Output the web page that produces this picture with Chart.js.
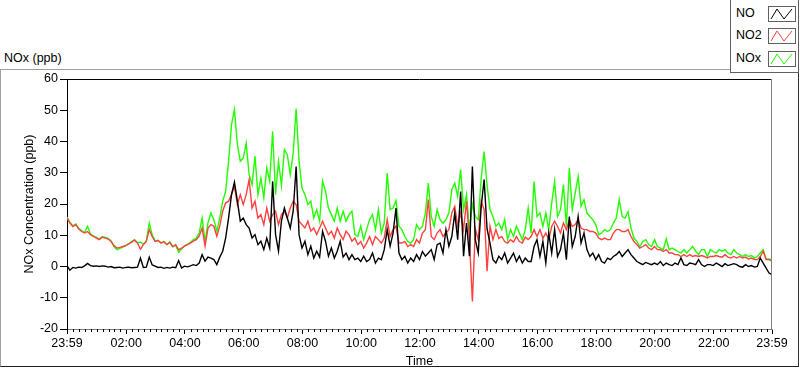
<!DOCTYPE html>
<html><head><meta charset="utf-8">
<script src="https://cdn.jsdelivr.net/npm/chart.js@4/dist/chart.umd.min.js"></script>
<style>
html,body{margin:0;padding:0;background:#fff;}
#wrap{position:relative;width:800px;height:369px;overflow:hidden;font-family:'Liberation Sans Narrow','Liberation Sans',Arial,sans-serif;color:#000;}
#frame{position:absolute;left:0;top:69px;width:797px;height:296px;border-top:1px solid #a0a0a0;border-left:1px solid #a0a0a0;border-right:1px solid #303030;border-bottom:1px solid #202020;}
#title{position:absolute;left:4px;top:51px;font-size:12.5px;}
#legend{position:absolute;left:730px;top:-1px;width:67px;height:72px;border:1px solid #606060;background:#fff;z-index:3;}
.li{position:absolute;left:5px;font-size:12.5px;}
.ic{position:absolute;left:37px;width:26px;height:14px;border:1px solid #606060;background:#fff;}
canvas{position:absolute;left:0;top:0;z-index:2;}
</style></head><body>
<div id="wrap">
  <div id="frame"></div>
  <div id="title">NOx (ppb)</div>
  <div id="legend">
    <div class="li" style="top:6px">NO</div>
    <div class="ic" style="top:6px"><svg width="26" height="14"><polyline points="2,12 8,2 15,12 23,2" fill="none" stroke="#000" stroke-width="1"/></svg></div>
    <div class="li" style="top:28px">NO2</div>
    <div class="ic" style="top:28px"><svg width="26" height="14"><polyline points="2,12 8,2 15,12 23,2" fill="none" stroke="#ff4040" stroke-width="1"/></svg></div>
    <div class="li" style="top:51px">NOx</div>
    <div class="ic" style="top:51px"><svg width="26" height="14"><polyline points="2,12 8,2 15,12 23,2" fill="none" stroke="#22ff00" stroke-width="1"/></svg></div>
  </div>
  <canvas id="c" width="800" height="369"></canvas>
</div>
<script>
// ---- data (6-minute samples starting at 23:59) ----
const SAMPLE_STEP_MIN = 6;
const NO = [
 0.3,-1.2,-0.3,-0.5,-0.2,-0.3,0.2,1.0,0.3,0.1,
 0.2,0.0,0.2,0.1,-0.2,0.0,-0.4,-0.3,-0.2,-0.5,
 -0.3,-0.2,-0.4,-0.3,-0.2,2.7,-0.3,-0.2,3.0,0.5,
 0.1,-0.3,-0.2,-0.6,-0.3,-0.5,-0.2,-0.4,1.9,-0.5,
 0.1,-0.1,0.2,0.6,0.3,1.1,3.8,1.7,3.0,2.7,
 2.2,0.6,3.0,4.9,9.1,15.5,23.0,27.0,20.9,14.5,
 15.5,13.4,12.3,9.1,10.2,7.0,8.1,5.4,9.1,5.9,
 27.3,10.2,4.9,14.5,18.7,15.5,12.3,17.7,32.0,10.2,
 5.9,8.1,3.8,6.5,2.7,4.9,3.0,11.3,8.1,3.3,
 5.9,2.7,4.9,8.1,3.0,4.3,2.2,3.8,2.2,2.7,
 1.6,3.3,1.6,2.2,4.3,1.1,2.7,2.2,5.4,11.8,
 6.5,10.7,18.7,4.3,2.2,3.3,1.1,2.7,1.6,3.8,
 2.2,4.8,3.3,4.3,5.4,2.2,7.0,7.5,4.3,11.8,
 6.5,9.6,17.1,8.6,24.0,3.3,13.9,3.3,32.0,8.6,
 4.3,19.2,27.8,12.0,7.5,2.2,1.1,3.3,2.2,4.3,
 1.1,2.7,4.3,1.6,3.3,1.1,2.7,1.6,1.6,6.4,
 8.6,3.2,8.0,1.1,10.7,4.3,11.8,3.2,5.4,10.7,
 2.2,16.0,6.4,9.6,16.0,7.5,10.7,5.4,3.2,4.3,
 2.2,3.8,1.6,1.1,2.7,2.2,3.2,3.8,4.8,3.2,
 4.3,5.4,3.8,2.7,1.6,1.1,0.6,1.3,0.9,0.6,
 1.1,0.6,1.6,0.3,1.1,0.6,0.3,1.1,0.6,2.7,
 0.6,0.3,1.1,0.9,0.6,2.2,0.6,0.0,0.6,0.6,
 0.3,1.1,0.6,0.0,0.9,0.3,0.6,0.9,0.6,0.0,
 -0.2,0.6,0.0,0.3,-0.2,0.0,2.7,1.1,-0.5,-2.1,
 -2.6
];
const NO2 = [
 15.5,13.9,12.8,13.4,12.0,11.2,10.7,11.2,10.2,9.6,
 9.1,8.6,9.4,9.1,8.8,8.0,6.7,5.9,6.1,6.4,
 6.7,7.2,7.8,8.4,7.5,5.5,7.0,8.0,11.8,9.6,
 8.0,8.3,7.5,8.0,7.0,7.7,6.4,7.0,5.4,5.9,
 6.5,7.0,7.5,8.1,8.6,9.7,12.3,6.5,12.3,13.4,
 12.9,9.7,12.9,17.7,20.3,20.9,23.0,25.7,19.8,23.0,
 19.8,23.0,27.8,18.7,20.9,15.5,16.6,13.4,18.7,14.5,
 16.6,17.7,13.4,16.6,17.7,15.5,18.7,20.9,19.8,14.5,
 13.4,12.3,14.5,11.3,12.3,10.2,12.3,14.5,12.3,10.2,
 11.3,9.1,12.3,10.2,8.6,11.3,10.2,8.1,9.1,7.0,
 8.0,5.9,7.5,9.6,7.0,9.6,8.6,7.5,9.1,15.0,
 9.6,11.8,12.9,7.5,7.5,8.0,6.4,7.0,6.4,8.6,
 7.5,10.7,11.8,21.4,9.6,8.6,10.7,11.8,9.6,10.7,
 11.8,17.1,19.2,12.9,17.1,11.8,20.9,8.6,-11.2,12.0,
 8.6,20.9,18.2,-1.5,12.9,8.6,11.8,9.0,9.6,8.0,
 7.5,8.6,7.8,9.6,8.0,7.5,9.4,8.6,9.6,11.8,
 9.6,11.8,9.1,10.7,8.6,12.8,14.5,12.8,10.7,13.9,
 11.8,15.0,12.8,13.4,15.0,12.3,11.8,11.8,11.2,11.2,
 10.7,9.1,8.6,9.1,8.6,8.6,10.7,11.8,11.8,11.2,
 11.2,11.8,9.6,8.0,7.0,5.9,6.4,7.0,5.9,5.4,
 6.4,5.4,5.4,4.8,5.4,4.3,4.3,3.8,3.8,3.2,
 3.8,3.2,3.8,3.2,3.5,3.2,3.5,3.2,2.7,3.2,
 3.2,3.5,3.2,3.0,3.8,3.0,2.7,3.2,2.7,3.2,
 2.7,3.0,2.4,2.7,2.2,2.2,3.2,4.9,2.2,2.2,
 1.7
];
const NOX = [
 15.8,14.1,13.0,13.6,12.2,11.4,10.9,12.9,10.4,9.8,
 9.3,8.8,9.6,9.3,9.0,8.2,6.4,5.4,5.8,6.2,
 6.7,7.3,8.0,8.6,7.6,7.8,7.2,8.2,13.9,10.2,
 8.2,8.4,7.6,7.8,7.0,7.9,6.3,6.8,4.6,5.6,
 6.6,7.1,7.7,8.6,9.0,10.8,15.5,8.0,14.0,17.1,
 15.0,11.3,15.5,20.9,24.0,33.7,45.4,50.2,39.0,33.7,
 34.7,39.5,29.4,26.2,35.3,23.0,28.3,22.0,31.5,27.3,
 43.3,23.0,33.7,26.0,37.4,35.8,29.4,36.3,50.5,33.7,
 25.1,23.0,19.8,20.9,15.5,18.2,14.5,27.3,24.1,18.7,
 16.6,14.5,18.7,14.5,17.7,14.5,16.6,17.7,10.2,9.6,
 12.9,8.6,11.8,15.0,16.6,11.8,18.2,10.7,13.9,29.9,
 18.2,18.7,21.1,12.9,11.8,9.6,8.0,7.5,8.6,13.4,
 11.8,12.9,17.1,26.7,16.0,12.9,18.2,15.0,13.9,15.0,
 17.1,24.6,26.7,22.4,31.0,18.2,23.0,11.8,20.0,16.0,
 15.0,28.3,36.8,26.0,18.2,16.0,12.9,13.9,11.8,15.0,
 8.6,11.8,9.6,12.9,10.7,8.6,11.8,18.7,10.7,27.2,
 16.0,17.1,12.8,17.1,11.8,20.3,27.2,16.0,18.2,26.2,
 12.8,31.5,18.2,23.5,28.8,19.3,21.4,17.1,16.0,15.0,
 13.4,10.2,10.7,11.8,11.2,11.8,13.9,15.5,21.4,16.0,
 15.5,17.6,12.3,9.1,8.0,6.4,8.0,8.6,7.0,6.4,
 8.6,6.4,5.9,5.4,8.8,5.4,5.9,5.4,4.8,4.3,
 5.4,4.3,5.4,6.4,4.9,3.8,5.4,5.4,3.2,5.4,
 4.8,4.3,5.4,4.9,5.4,4.3,3.8,5.4,4.3,3.8,
 3.2,3.8,3.2,3.5,2.7,3.2,4.3,5.4,2.4,2.4,
 2.0
];
const X_TICK_MIN = [0,121,241,361,481,601,721,841,961,1081,1201,1321,1440];
const X_TICK_LABELS = ['23:59','02:00','04:00','06:00','08:00','10:00','12:00','14:00','16:00','18:00','20:00','22:00','23:59'];
const Y_TICKS = [-20,-10,0,10,20,30,40,50,60];
const MINOR_STEP_MIN = 12;

const minutes = NO.map((_, i) => i * SAMPLE_STEP_MIN);
const pts = arr => arr.map((v, i) => ({x: minutes[i], y: v}));

const FONT = {family:"'Liberation Sans Narrow','Liberation Sans',Arial,sans-serif", size:12.5};

const framePlugin = {
  id:'frame',
  afterDraw(chart){
    const {ctx, chartArea:a, scales:{x}} = chart;
    ctx.save();
    ctx.lineWidth = 1;
    ctx.strokeStyle = '#000';
    ctx.beginPath(); ctx.moveTo(a.left, a.top + 0.5); ctx.lineTo(a.right, a.top + 0.5); ctx.stroke();
    ctx.strokeStyle = '#808080';
    ctx.beginPath(); ctx.moveTo(a.right - 0.5, a.top); ctx.lineTo(a.right - 0.5, a.bottom); ctx.stroke();
    ctx.strokeStyle = '#000';
    ctx.beginPath();
    for (let m = X_TICK_MIN[1] % MINOR_STEP_MIN; m < 1440; m += MINOR_STEP_MIN) {
      if (X_TICK_MIN.includes(m)) continue;
      const px = Math.round(x.getPixelForValue(m)) + 0.5;
      ctx.moveTo(px, a.bottom); ctx.lineTo(px, a.bottom + 3);
    }
    ctx.stroke();
    ctx.restore();
  }
};

new Chart(document.getElementById('c'), {
  type:'line',
  data:{datasets:[
    {label:'NO', data:pts(NO), borderColor:'#000000', borderWidth:1.4, pointRadius:0, tension:0},
    {label:'NO2', data:pts(NO2), borderColor:'#ff4040', borderWidth:1.4, pointRadius:0, tension:0},
    {label:'NOx', data:pts(NOX), borderColor:'#22ff00', borderWidth:1.4, pointRadius:0, tension:0}
  ]},
  options:{
    responsive:false, animation:false, events:[],
    layout:{padding:{left:0, right:28, top:79, bottom:0}},
    plugins:{legend:{display:false}, tooltip:{enabled:false}},
    scales:{
      x:{type:'linear', min:0, max:1440,
        afterBuildTicks(s){ s.ticks = X_TICK_MIN.map(v => ({value:v})); },
        afterFit(s){ s.height = 40; },
        ticks:{autoSkip:false, maxRotation:0, padding:2, color:'#000', font:FONT,
          callback:(v, i) => X_TICK_LABELS[i]},
        grid:{drawOnChartArea:false, tickLength:5, tickColor:'#000'},
        border:{color:'#808080'},
        title:{display:true, text:'Time', color:'#000', font:FONT, padding:{top:0,bottom:0}}
      },
      y:{min:-20, max:60,
        afterBuildTicks(s){ s.ticks = Y_TICKS.map(v => ({value:v})); },
        afterFit(s){ s.width = 67; },
        ticks:{padding:2, color:'#000', font:FONT},
        grid:{drawOnChartArea:false, tickLength:7, tickColor:'#000'},
        border:{color:'#000'},
        title:{display:true, text:'NOx Concentration (ppb)', color:'#000', font:FONT, padding:{top:22,bottom:0}}
      }
    }
  },
  plugins:[framePlugin]
});
</script>
</body></html>
